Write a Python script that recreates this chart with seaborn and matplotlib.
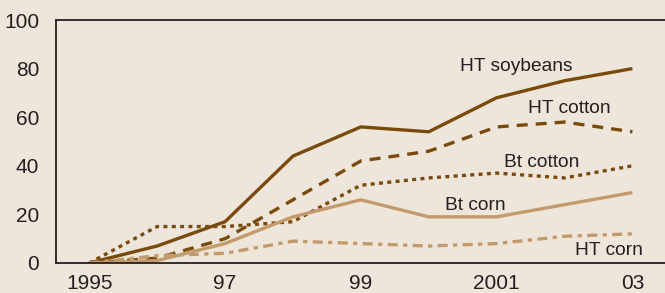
import matplotlib
matplotlib.use("Agg")
import matplotlib.pyplot as plt
import seaborn as sns
import pandas as pd

years = [1995, 1996, 1997, 1998, 1999, 2000, 2001, 2002, 2003]
ht_soybeans = [0, 7, 17, 44, 56, 54, 68, 75, 80]
ht_cotton = [0, 2, 10, 26, 42, 46, 56, 58, 54]
bt_cotton = [0, 15, 15, 17, 32, 35, 37, 35, 40]
bt_corn = [0, 1, 8, 19, 26, 19, 19, 24, 29]
ht_corn = [0, 3, 4, 9, 8, 7, 8, 11, 12]

series_names = ["HT soybeans", "HT cotton", "Bt cotton", "Bt corn", "HT corn"]
series_values = [ht_soybeans, ht_cotton, bt_cotton, bt_corn, ht_corn]

xtick_positions = [1995, 1997, 1999, 2001, 2003]
xtick_labels = ["1995", "97", "99", "2001", "03"]
ytick_values = [0, 20, 40, 60, 80, 100]

BG = "#efe6db"
DARK = "#7a4a0c"
LIGHT = "#c29a6c"
TXT = "#231f20"

sns.set_style("white")
plt.rcParams["font.family"] = ["Liberation Sans", "DejaVu Sans"]

df = pd.DataFrame({
    "year": years * len(series_names),
    "share": sum(series_values, []),
    "crop": [n for n in series_names for _ in years],
})

fig = plt.figure(figsize=(6.65, 2.93), dpi=100, facecolor=BG)
ax = fig.add_axes([56 / 665, 1 - 263 / 293, 1 - 56 / 665, (263 - 20) / 293])
ax.set_facecolor(BG)

colors = {"HT soybeans": DARK, "HT cotton": DARK, "Bt cotton": DARK,
          "Bt corn": LIGHT, "HT corn": LIGHT}
dashes = {"HT soybeans": None, "HT cotton": (3.3, 2.4), "Bt cotton": (1.2, 1.3),
          "Bt corn": None, "HT corn": (3.0, 1.6, 1.3, 1.6)}

for name in series_names:
    sub = df[df["crop"] == name]
    sns.lineplot(data=sub, x="year", y="share", ax=ax, color=colors[name],
                 linewidth=2.4, legend=False)
    line = ax.get_lines()[-1]
    line.set_solid_capstyle("butt")
    line.set_dash_capstyle("butt")
    if dashes[name] is not None:
        line.set_dashes(dashes[name])

labels_pos = {"HT soybeans": (2001.29, 81), "HT cotton": (2002.07, 63.4),
              "Bt cotton": (2001.67, 41.2), "Bt corn": (2000.69, 23.5),
              "HT corn": (2002.66, 5.3)}
for name, (x, y) in labels_pos.items():
    ax.text(x, y, name, ha="center", va="center", fontsize=13.8, color=TXT)

ax.set_xlim(1994.51, 2003.48)
ax.set_ylim(0, 100)
ax.set_xticks(years, minor=False)
ax.set_xticklabels([xtick_labels[xtick_positions.index(y)] if y in xtick_positions else "" for y in years])
ax.set_yticks(ytick_values)
ax.set_yticklabels([str(v) for v in ytick_values])
ax.set_xlabel("")
ax.set_ylabel("")

ax.tick_params(axis="x", direction="out", length=6, width=1, color="#555555",
               labelsize=15, labelcolor=TXT, pad=2)
ax.tick_params(axis="y", direction="in", length=9, width=1, color="#555555",
               labelsize=15, labelcolor=TXT, pad=12)
for t in ax.yaxis.get_major_ticks():
    if t.get_loc() in (0, 100):
        t.tick1line.set_visible(False)

for side in ["left", "top", "bottom"]:
    ax.spines[side].set_visible(True)
    ax.spines[side].set_color(TXT)
    ax.spines[side].set_linewidth(1.3)
ax.spines["right"].set_visible(False)

fig.savefig("out.png", dpi=100, facecolor=BG)
